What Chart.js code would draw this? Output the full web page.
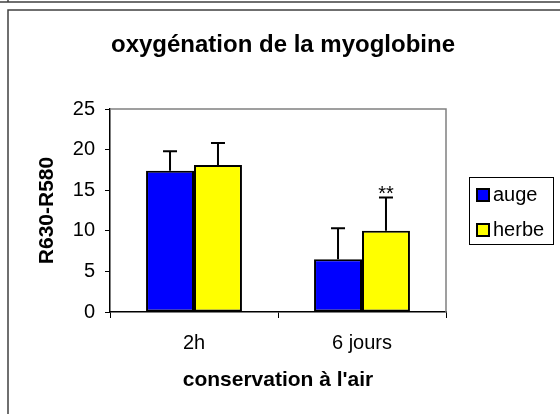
<!DOCTYPE html>
<html>
<head>
<meta charset="utf-8">
<script src="https://cdn.jsdelivr.net/npm/chart.js@4/dist/chart.umd.min.js"></script>
<style>
  body { margin: 0; background: #fff; }
  canvas { display: block; }
</style>
</head>
<body>
<canvas id="myoChart" width="560" height="414"></canvas>
<script>
// --- data ---
var categories = ['2h', '6 jours'];
var seriesNames = ['auge', 'herbe'];
var augeValues = [17.4, 6.5];
var herbeValues = [18.1, 10.0];
var augeErrors = [2.4, 3.8];
var herbeErrors = [2.7, 4.1];
var herbeSignif = ['', '**'];
var yTicks = [0, 5, 10, 15, 20, 25];
var titleText = 'oxygénation de la myoglobine';
var xTitle = "conservation à l'air";
var yTitle = 'R630-R580';

var FONT = "'Liberation Sans', Arial, sans-serif";
Chart.defaults.font.family = FONT;
Chart.defaults.color = '#000';

// frames, plot border, error bars, stars, legend
var decorPlugin = {
    id: 'decor',
    beforeDraw: function(chart) {
        var ctx = chart.ctx;
        ctx.save();
        ctx.fillStyle = '#fff';
        ctx.fillRect(0, 0, chart.width, chart.height);
        ctx.strokeStyle = '#404040';
        ctx.lineWidth = 1.5;
        ctx.beginPath();
        ctx.moveTo(0, 2); ctx.lineTo(chart.width, 2);
        ctx.moveTo(8, 0); ctx.lineTo(8, 2);
        ctx.moveTo(8, chart.height); ctx.lineTo(8, 10); ctx.lineTo(chart.width, 10);
        ctx.stroke();
        // main title
        ctx.fillStyle = '#000';
        ctx.font = 'bold 24px ' + FONT;
        ctx.textAlign = 'center';
        ctx.textBaseline = 'middle';
        ctx.fillText(titleText, 283, 45);
        ctx.restore();
    },
    beforeDatasetsDraw: function(chart) {
        var a = chart.chartArea, ctx = chart.ctx;
        ctx.save();
        ctx.strokeStyle = '#808080';
        ctx.lineWidth = 1.5;
        ctx.beginPath();
        ctx.moveTo(a.left, a.top); ctx.lineTo(a.right, a.top); ctx.lineTo(a.right, a.bottom);
        ctx.stroke();
        ctx.restore();
    },
    afterDatasetsDraw: function(chart) {
        var ctx = chart.ctx, y = chart.scales.y;
        var errs = [augeErrors, herbeErrors];
        var signs = [null, herbeSignif];
        ctx.save();
        ctx.strokeStyle = '#000';
        ctx.lineWidth = 2;
        chart.data.datasets.forEach(function(ds, di) {
            chart.getDatasetMeta(di).data.forEach(function(bar, i) {
                var top = y.getPixelForValue(ds.data[i] + errs[di][i]);
                ctx.beginPath();
                ctx.moveTo(bar.x, bar.y);
                ctx.lineTo(bar.x, top);
                ctx.moveTo(bar.x - 7, top);
                ctx.lineTo(bar.x + 7, top);
                ctx.stroke();
                if (signs[di] && signs[di][i]) {
                    ctx.fillStyle = '#000';
                    ctx.font = '20px ' + FONT;
                    ctx.textAlign = 'center';
                    ctx.textBaseline = 'alphabetic';
                    ctx.fillText(signs[di][i], bar.x, top + 2);
                }
            });
        });
        ctx.restore();
    },
    afterDraw: function(chart) {
        var a = chart.chartArea, ctx = chart.ctx;
        var lx = a.right + 23, ly = (a.top + a.bottom) / 2 - 33.5;
        ctx.save();
        ctx.strokeStyle = '#000';
        ctx.lineWidth = 1;
        ctx.strokeRect(lx + 0.5, ly + 0.5, 84, 67);
        ctx.font = '20px ' + FONT;
        ctx.textAlign = 'left';
        ctx.textBaseline = 'middle';
        chart.data.datasets.forEach(function(ds, i) {
            var cy = ly + 18 + i * 35;
            ctx.fillStyle = ds.backgroundColor;
            ctx.fillRect(lx + 7, cy - 7, 14, 14);
            ctx.lineWidth = 2;
            ctx.strokeRect(lx + 8, cy - 6, 12, 12);
            ctx.fillStyle = '#000';
            ctx.fillText(ds.label, lx + 24, cy);
        });
        ctx.restore();
    }
};

var ctx = document.getElementById('myoChart').getContext('2d');
var chart = new Chart(ctx, {
    type: 'bar',
    data: {
        labels: categories,
        datasets: [
            {
                label: seriesNames[0],
                data: augeValues,
                backgroundColor: '#0000ff',
                borderColor: '#000',
                borderWidth: 2,
                borderSkipped: false
            },
            {
                label: seriesNames[1],
                data: herbeValues,
                backgroundColor: '#ffff00',
                borderColor: '#000',
                borderWidth: 2,
                borderSkipped: false
            }
        ]
    },
    options: {
        responsive: false,
        animation: false,
        devicePixelRatio: 1,
        barPercentage: 1,
        categoryPercentage: 0.571,
        layout: { padding: { top: 109, right: 114, bottom: 2, left: 0 } },
        plugins: {
            legend: { display: false },
            title: { display: false },
            tooltip: { enabled: false }
        },
        scales: {
            x: {
                grid: { drawOnChartArea: false, color: '#000', tickLength: 6 },
                border: { color: '#000', width: 1.5 },
                ticks: { font: { size: 20 }, padding: 13 },
                title: { display: true, text: xTitle, font: { size: 21, weight: 'bold' }, padding: { top: 0, bottom: 19 } },
                afterFit: function(s) { s.height = 100; }
            },
            y: {
                min: 0,
                max: 25,
                afterBuildTicks: function(s) { s.ticks = yTicks.map(function(v) { return { value: v }; }); },
                grid: { drawOnChartArea: false, color: '#000', tickLength: 5 },
                border: { color: '#000', width: 1.5 },
                ticks: { font: { size: 20 }, padding: 10 },
                title: { display: true, text: yTitle, font: { size: 21, weight: 'bold' }, padding: { top: 35, bottom: 0 } },
                afterFit: function(s) { s.width = 110; }
            }
        }
    },
    plugins: [decorPlugin]
});
</script>
</body>
</html>
